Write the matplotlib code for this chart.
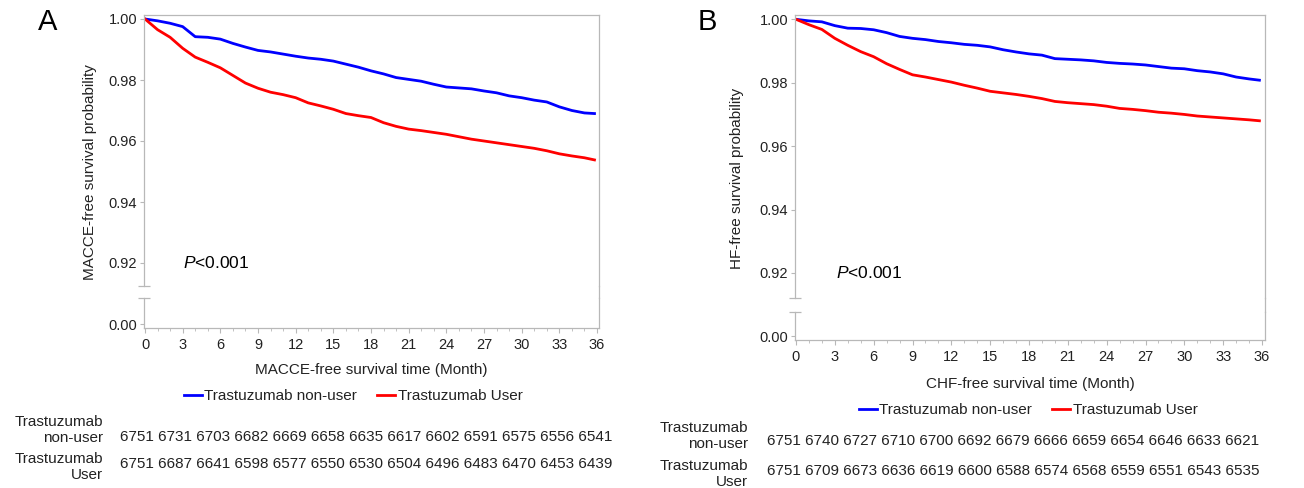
import matplotlib
matplotlib.use("Agg")
import matplotlib.pyplot as plt
from matplotlib.lines import Line2D
from matplotlib.ticker import FormatStrFormatter

plt.rcParams['font.family'] = ['Liberation Sans', 'DejaVu Sans']
plt.rcParams['mathtext.fontset'] = 'custom'
plt.rcParams['mathtext.it'] = 'Liberation Sans:italic'
plt.rcParams['mathtext.rm'] = 'Liberation Sans'

# months of follow-up (curves stop a bit before 36)
months = [0, 1, 2, 3, 4, 5, 6, 7, 8, 9, 10, 11, 12, 13, 14, 15, 16, 17, 18,
          19, 20, 21, 22, 23, 24, 25, 26, 27, 28, 29, 30, 31, 32, 33, 34, 35, 35.8]

# panel A: MACCE-free survival
a_nonuser = [1.0000, 0.9994, 0.9986, 0.9975, 0.9942, 0.9940, 0.9934, 0.9920, 0.9908,
             0.9897, 0.9892, 0.9885, 0.9878, 0.9872, 0.9868, 0.9862, 0.9852, 0.9842,
             0.9830, 0.9820, 0.9808, 0.9802, 0.9796, 0.9786, 0.9777, 0.9774, 0.9771,
             0.9764, 0.9758, 0.9748, 0.9742, 0.9734, 0.9728, 0.9712, 0.9700, 0.9692, 0.9690]
a_user = [1.0000, 0.9965, 0.9940, 0.9904, 0.9875, 0.9858, 0.9840, 0.9815, 0.9790,
          0.9773, 0.9760, 0.9752, 0.9742, 0.9725, 0.9715, 0.9704, 0.9690, 0.9683,
          0.9677, 0.9660, 0.9648, 0.9639, 0.9634, 0.9628, 0.9622, 0.9614, 0.9606,
          0.9600, 0.9594, 0.9588, 0.9582, 0.9576, 0.9568, 0.9558, 0.9551, 0.9545, 0.9538]

# panel B: HF-free survival
b_nonuser = [1.0000, 0.9995, 0.9992, 0.9980, 0.9972, 0.9971, 0.9967, 0.9958, 0.9946,
             0.9940, 0.9936, 0.9930, 0.9926, 0.9921, 0.9918, 0.9913, 0.9904, 0.9897,
             0.9891, 0.9887, 0.9876, 0.9874, 0.9872, 0.9869, 0.9864, 0.9861, 0.9859,
             0.9856, 0.9851, 0.9846, 0.9844, 0.9838, 0.9834, 0.9828, 0.9818, 0.9812, 0.9808]
b_user = [1.0000, 0.9983, 0.9968, 0.9940, 0.9918, 0.9898, 0.9882, 0.9860, 0.9842,
          0.9825, 0.9818, 0.9810, 0.9802, 0.9792, 0.9783, 0.9773, 0.9768, 0.9763,
          0.9757, 0.9750, 0.9741, 0.9737, 0.9734, 0.9731, 0.9726, 0.9719, 0.9716,
          0.9712, 0.9707, 0.9704, 0.9700, 0.9695, 0.9692, 0.9689, 0.9686, 0.9683, 0.9680]

# numbers at risk every 3 months
risk_a_nonuser = [6751, 6731, 6703, 6682, 6669, 6658, 6635, 6617, 6602, 6591, 6575, 6556, 6541]
risk_a_user = [6751, 6687, 6641, 6598, 6577, 6550, 6530, 6504, 6496, 6483, 6470, 6453, 6439]
risk_b_nonuser = [6751, 6740, 6727, 6710, 6700, 6692, 6679, 6666, 6659, 6654, 6646, 6633, 6621]
risk_b_user = [6751, 6709, 6673, 6636, 6619, 6600, 6588, 6574, 6568, 6559, 6551, 6543, 6535]

group_names = ["Trastuzumab non-user", "Trastuzumab User"]
row_labels = ["Trastuzumab\nnon-user", "Trastuzumab\nUser"]
upper_ticks = [0.92, 0.94, 0.96, 0.98, 1.00]
x_major = list(range(0, 37, 3))
x_minor = list(range(0, 37))

W, H = 1304, 488
BLUE, RED = "#0000ff", "#ff0000"
SPINE = "#b8b8b8"
TXT = "#222222"

fig = plt.figure(figsize=(W / 100, H / 100), dpi=100)


def fx(x):
    return x / W


def fy(y):
    return 1 - y / H


def panel(p):
    scale = (p["y092"] - p["y100"]) / 0.08          # px per survival unit
    pxm = (p["x36"] - p["x0"]) / 36.0               # px per month
    xlim = ((p["left"] - p["x0"]) / pxm, 36 + (p["right"] - p["x36"]) / pxm)
    w = fx(p["right"]) - fx(p["left"])

    ax_t = fig.add_axes([fx(p["left"]), fy(p["brk_top"]), w, fy(p["top"]) - fy(p["brk_top"])])
    ax_b = fig.add_axes([fx(p["left"]), fy(p["bottom"]), w, fy(p["brk_bot"]) - fy(p["bottom"])])

    ax_t.set_ylim(1 - (p["brk_top"] - p["y100"]) / scale, 1 + (p["y100"] - p["top"]) / scale)
    ax_b.set_ylim(-(p["bottom"] - p["y000"]) / scale, (p["y000"] - p["brk_bot"]) / scale)
    for ax in (ax_t, ax_b):
        ax.set_xlim(*xlim)
        for s in ax.spines.values():
            s.set_color(SPINE)
            s.set_linewidth(0.9)
        ax.tick_params(colors=SPINE, labelcolor=TXT, labelsize=10.5, width=0.8)
    ax_t.spines["bottom"].set_visible(False)
    ax_b.spines["top"].set_visible(False)

    ax_t.plot(months, p["nonuser"], color=BLUE, lw=2.0, label=group_names[0])
    ax_t.plot(months, p["user"], color=RED, lw=2.0, label=group_names[1])

    ax_t.set_yticks(upper_ticks)
    ax_t.yaxis.set_major_formatter(FormatStrFormatter("%.2f"))
    ax_t.tick_params(axis="x", bottom=False, labelbottom=False)
    ax_t.tick_params(axis="y", length=3, pad=2)

    ax_b.set_yticks([0.0])
    ax_b.yaxis.set_major_formatter(FormatStrFormatter("%.2f"))
    ax_b.tick_params(axis="y", length=3, pad=2)
    ax_b.set_xticks(x_major)
    ax_b.set_xticks(x_minor, minor=True)
    ax_b.tick_params(axis="x", which="major", length=3.5, pad=4)
    ax_b.tick_params(axis="x", which="minor", length=2, width=0.6, colors=SPINE)

    # break marks on the left axis
    ax_t.plot([0], [0], marker="_", ms=9, mew=0.9, color=SPINE,
              transform=ax_t.transAxes, clip_on=False)
    ax_b.plot([0], [1], marker="_", ms=9, mew=0.9, color=SPINE,
              transform=ax_b.transAxes, clip_on=False)
    # right frame line across the gap
    fig.add_artist(Line2D([fx(p["right"]) - 0.0002] * 2, [fy(p["brk_bot"]), fy(p["brk_top"])],
                          transform=fig.transFigure, color=SPINE, lw=0.9))

    ax_t.text(p["p_month"], 0.92, "$P$<0.001", fontsize=12.5, color="black",
              ha="left", va="center")

    fig.text(fx(p["ylab_x"]), fy(p["ylab_y"]), p["ylabel"], rotation=90,
             ha="center", va="center", fontsize=11, color=TXT)
    fig.text(fx((p["left"] + p["right"]) / 2), fy(p["xlab_y"]), p["xlabel"],
             ha="center", va="center", fontsize=11, color=TXT)
    fig.text(fx(p["letter_x"]), fy(22), p["letter"], ha="center", va="center",
             fontsize=21, color="black")

    ax_t.legend(loc="center", bbox_to_anchor=(fx(p["leg_x"]), fy(p["leg_y"])),
                bbox_transform=fig.transFigure, ncol=2, frameon=False, fontsize=11,
                handlelength=1.2, handletextpad=0.15, columnspacing=1.3,
                labelcolor=TXT)

    for i, (risk, ly, ny) in enumerate(zip(p["risk"], p["row_lab_y"], p["row_num_y"])):
        fig.text(fx(p["row_lab_x"]), fy(ly), row_labels[i], ha="right", va="center",
                 fontsize=11, color=TXT, linespacing=1.15)
        fig.text(fx(p["num_x"]), fy(ny), " ".join(str(n) for n in risk),
                 ha="left", va="center", fontsize=11, color=TXT)


panel(dict(left=144, right=599, top=15, brk_top=286, brk_bot=298, bottom=328,
           y100=19, y092=263, y000=324, x0=145, x36=597,
           nonuser=a_nonuser, user=a_user, p_month=3.0,
           ylabel="MACCE-free survival probability", ylab_x=90, ylab_y=172,
           xlabel="MACCE-free survival time (Month)", xlab_y=370,
           letter="A", letter_x=48, leg_x=353, leg_y=396,
           risk=[risk_a_nonuser, risk_a_user], row_lab_x=103,
           row_lab_y=[430, 467], row_num_y=[437, 464], num_x=120))

panel(dict(left=795, right=1265, top=15, brk_top=298, brk_bot=312, bottom=340,
           y100=19.3, y092=273, y000=336, x0=796, x36=1262,
           nonuser=b_nonuser, user=b_user, p_month=3.1,
           ylabel="HF-free survival probability", ylab_x=737, ylab_y=178,
           xlabel="CHF-free survival time (Month)", xlab_y=384,
           letter="B", letter_x=707, leg_x=1028, leg_y=410,
           risk=[risk_b_nonuser, risk_b_user], row_lab_x=748,
           row_lab_y=[436, 474], row_num_y=[441, 471], num_x=767))

fig.savefig("out.png", dpi=100)
